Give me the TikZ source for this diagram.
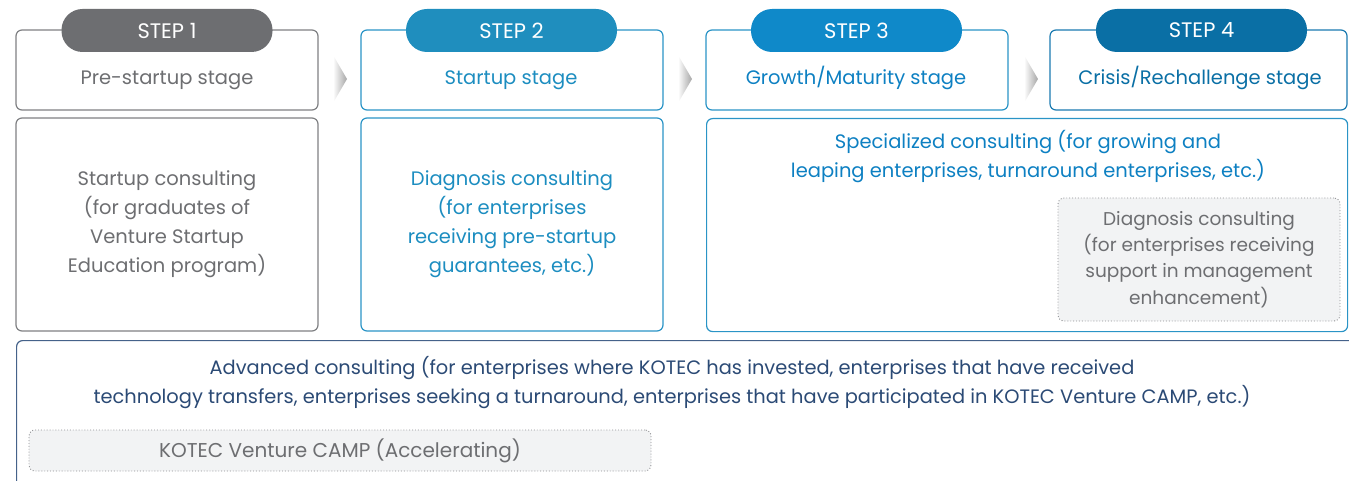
\documentclass[tikz,border=0pt]{standalone}
\usepackage{fontspec}
\setmainfont{Poppins}
\usetikzlibrary{positioning}
\definecolor{gtext}{HTML}{6D6E71}
\definecolor{gline}{HTML}{7F8083}
\definecolor{pillA}{HTML}{6D6E71}
\definecolor{pillB}{HTML}{1F8EBE}
\definecolor{pillC}{HTML}{0F89C9}
\definecolor{pillD}{HTML}{0A6FA5}
\definecolor{txtB}{HTML}{1C8DC0}
\definecolor{txtC}{HTML}{0D80C2}
\definecolor{txtD}{HTML}{0A6FA5}
\definecolor{lineB}{HTML}{2A94C6}
\definecolor{lineD}{HTML}{1A7AB0}
\definecolor{navyline}{HTML}{45628A}
\definecolor{navytxt}{HTML}{2B4A75}
\definecolor{dotfill}{HTML}{F2F3F4}
\definecolor{dotline}{HTML}{8E8F92}
\tikzset{
  stagebox/.style={draw, line width=1.2pt, rounded corners=6pt, minimum width=302pt, minimum height=80pt, inner sep=0pt},
  stagetext/.style={inner sep=0pt, anchor=base, font=\fontsize{19.5}{24}\selectfont},
  bodybox/.style={draw, line width=1.2pt, rounded corners=6pt, minimum height=213pt, inner sep=0pt, align=center, font=\fontsize{19.5}{29}\selectfont},
  pill/.style={rounded corners=21pt, minimum width=211pt, minimum height=43pt, inner sep=0pt, text=white, font=\fontsize{21}{24}\selectfont},
  dotbox/.style={draw=dotline, fill=dotfill, line width=0.9pt, dotted, rounded corners=6pt, inner sep=0pt, align=center},
  chev/.style={left color=white, right color=gray!70, draw=none},
}
\begin{document}
\begin{tikzpicture}[x=1pt,y=-1pt]
\useasboundingbox (0,0) rectangle (1349,481);
\clip (0,0) rectangle (1349,481);
% top stage boxes
\node[stagebox, draw=gline] (s1) at (167,70) {};
\node[stagebox, draw=lineB] (s2) at (512,70) {};
\node[stagebox, draw=lineB] (s3) at (857,70) {};
\node[stagebox, draw=lineD, minimum width=297pt] (s4) at (1198.5,70) {};
\node[stagetext, text=gtext] (s1t) at (167,85) {Pre-startup stage};
\node[stagetext, text=txtB] (s2t) at (511,85) {Startup stage};
\node[stagetext, text=txtC] (s3t) at (856,85) {Growth/Maturity stage};
\node[stagetext, text=txtD] (s4t) at (1200,85) {Crisis/Rechallenge stage};
% pills
\node[pill, fill=pillA] (p1) at (167,30.5) {STEP 1};
\node[pill, fill=pillB] (p2) at (511.5,30.5) {STEP 2};
\node[pill, fill=pillC] (p3) at (856.5,30.5) {STEP 3};
\node[pill, fill=pillD] (p4) at (1201.5,30.5) {STEP 4};
% chevrons
\shade[chev] (333,55) -- (347,79) -- (333,103) -- cycle;
\shade[chev] (678,55) -- (692,79) -- (678,103) -- cycle;
\shade[chev] (1024,55) -- (1038,79) -- (1024,103) -- cycle;
% body boxes
\node[bodybox, draw=gline, text=gtext, minimum width=302pt] (b1) at (167,224.5) {Startup consulting\\(for graduates of\\Venture Startup\\Education program)};
\node[bodybox, draw=lineB, text=txtB, minimum width=302pt] (b2) at (512,224.5) {Diagnosis consulting\\(for enterprises\\receiving pre-startup\\guarantees, etc.)};
\node[bodybox, draw=lineB, minimum width=641pt, anchor=north west] (b3) at (706,118) {};
\node[text=txtC, align=center, font=\fontsize{19.5}{29}\selectfont] (b3t) at (1028,157) {Specialized consulting (for growing and\\leaping enterprises, turnaround enterprises, etc.)};
\node[dotbox, text=gtext, minimum width=282pt, minimum height=123pt, font=\fontsize{18.5}{26.3}\selectfont] (d1) at (1199,259.5) {Diagnosis consulting\\(for enterprises receiving\\support in management\\enhancement)};
% bottom box
\node[draw=navyline, line width=1.2pt, rounded corners=6pt, minimum width=1360pt, minimum height=170pt, anchor=north west, inner sep=0pt] (bb) at (16,340) {};
\node[text=navytxt, align=center, font=\fontsize{19.4}{29}\selectfont] (bbt) at (672,382.5) {Advanced consulting (for enterprises where KOTEC has invested, enterprises that have received\\technology transfers, enterprises seeking a turnaround, enterprises that have participated in KOTEC Venture CAMP, etc.)};
\node[dotbox, text=gtext, minimum width=622pt, minimum height=41pt, font=\fontsize{20}{24}\selectfont] (d2) at (340,450.5) {KOTEC Venture CAMP (Accelerating)};
\end{tikzpicture}
\end{document}
